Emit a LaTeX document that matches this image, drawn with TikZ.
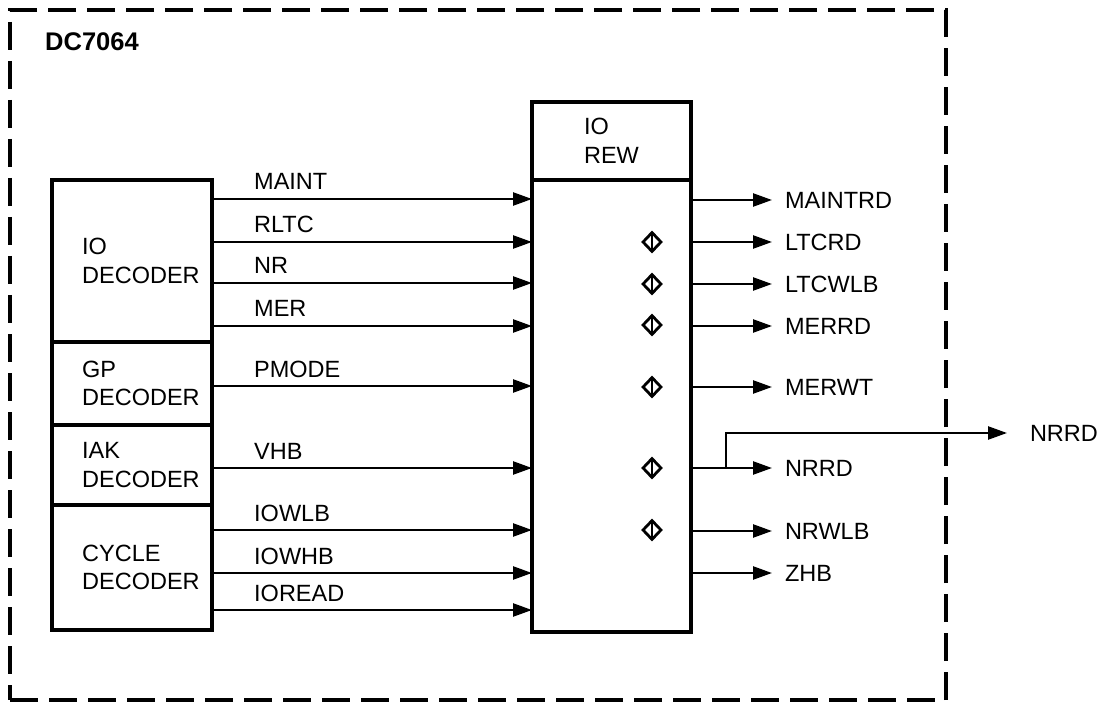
\documentclass[tikz,border=0pt]{standalone}
\usepackage{fontspec}
\setmainfont{Liberation Sans}
\usetikzlibrary{shapes.geometric, arrows.meta, positioning}

\begin{document}
\begin{tikzpicture}[x=1pt, y=-1pt,
  font=\fontsize{23.5}{28.5}\selectfont,
  chipframe/.style={draw, rectangle, line width=3.2pt, dash pattern=on 28pt off 11pt, outer sep=0pt, inner sep=0pt},
  dec/.style={draw, rectangle, line width=3.2pt, minimum width=160pt, outer sep=0pt, inner sep=0pt},
  declab/.style={align=left, inner sep=0pt, anchor=west},
  sig/.style={line width=2.4pt, -{Triangle[length=19pt, width=13pt]}},
  inlab/.style={anchor=base west, inner sep=0pt},
  outlab/.style={anchor=west, inner xsep=13pt, inner ysep=0pt, outer sep=0pt},
  tri/.style={diamond, draw, line width=2.8pt, minimum width=19pt, minimum height=20pt, inner sep=0pt,
    path picture={\draw[line width=2.6pt] (path picture bounding box.north) -- (path picture bounding box.south);}},
]
  \useasboundingbox (0,0) rectangle (1105,708);

  % Chip outline
  \node[chipframe, minimum width=936pt, minimum height=690pt] (chip) at (478,355) {};
  \node[font=\fontsize{25.5}{30}\selectfont\bfseries, anchor=base west, inner sep=0pt] (chipname) at (45,51) {DC7064};

  % Decoders
  \node[dec, minimum height=162pt, anchor=north west] (iodec) at (52,180) {};
  \node[dec, minimum height=83pt, below=0pt of iodec] (gpdec) {};
  \node[dec, minimum height=80pt, below=0pt of gpdec] (iakdec) {};
  \node[dec, minimum height=125pt, below=0pt of iakdec] (cycdec) {};
  \node[declab, right=30pt of iodec.west] (iolab) {IO\\DECODER};
  \node[declab, right=30pt of gpdec.west] (gplab) {GP\\DECODER};
  \node[declab, right=30pt of iakdec.west] (iaklab) {IAK\\DECODER};
  \node[declab, right=30pt of cycdec.west] (cyclab) {CYCLE\\DECODER};

  % IO REW
  \node[dec, minimum width=159pt, minimum height=78pt, anchor=north west, align=left] (rewhead) at (532,102) {IO\\REW};
  \node[dec, minimum width=159pt, minimum height=452pt, below=0pt of rewhead] (rew) {};

  % Inputs
  \foreach \y/\src/\txt [count=\i] in {199/iodec/MAINT, 242/iodec/RLTC, 283/iodec/NR, 326/iodec/MER,
      386/gpdec/PMODE, 468/iakdec/VHB, 530/cycdec/IOWLB, 573/cycdec/IOWHB, 610/cycdec/IOREAD}{
    \draw[sig] (\src.east |- 0,\y) -- (rew.west |- 0,\y);
    \node[inlab] (in\i) at (254,\y-9) {\txt};
  }

  % Outputs
  \foreach \y/\txt [count=\i] in {200/MAINTRD, 242/LTCRD, 284/LTCWLB, 326/MERRD, 387/MERWT,
      468/NRRD, 531/NRWLB, 573/ZHB}{
    \node[outlab] (out\i) at (772,\y) {\txt};
    \draw[sig] (rew.east |- out\i.west) -- (out\i.west);
  }

  % Tri-state marks
  \foreach \y [count=\i] in {242,284,325,387,468,530}
    \node[tri] (tri\i) at (652,\y) {};

  % NRRD off chip
  \coordinate (tap) at (726,468);
  \node[outlab, inner xsep=23pt] (nrrdx) at (1007,433) {NRRD};
  \draw[sig] (tap) |- (nrrdx.west);
\end{tikzpicture}
\end{document}
